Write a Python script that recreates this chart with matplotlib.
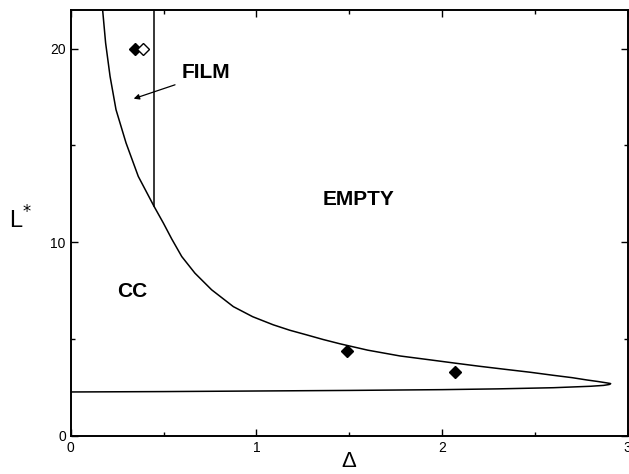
import matplotlib.pyplot as plt
from matplotlib.ticker import MultipleLocator

plt.rcParams["font.family"] = ["Liberation Sans", "DejaVu Sans"]

# phase boundary: upper branch down to the nose,
# then the lower branch back to delta = 0
upper_delta = [0.172, 0.188, 0.212, 0.244, 0.298, 0.364, 0.449, 0.499, 0.544,
               0.598, 0.669, 0.759, 0.876, 0.98, 1.091, 1.18, 1.271, 1.36,
               1.45, 1.60, 1.774, 1.935, 2.07, 2.20, 2.34, 2.474, 2.60, 2.70,
               2.78, 2.84, 2.88, 2.905, 2.908]
upper_L = [22.0, 20.3, 18.57, 16.85, 15.13, 13.4, 11.85, 10.99, 10.17,
           9.26, 8.40, 7.54, 6.67, 6.15, 5.73, 5.45, 5.21, 4.97,
           4.75, 4.42, 4.12, 3.92, 3.75, 3.59, 3.43, 3.28, 3.12, 3.0,
           2.88, 2.80, 2.74, 2.70, 2.69]
lower_delta = [2.908, 2.90, 2.87, 2.80, 2.60, 2.30, 2.0, 1.5, 1.0, 0.5, 0.0]
lower_L = [2.69, 2.645, 2.60, 2.555, 2.48, 2.42, 2.38, 2.34, 2.31, 2.28, 2.26]

# film / empty boundary (vertical line)
film_delta = [0.449, 0.449]
film_L = [11.85, 22.0]

# data points
filled_delta = [0.348, 1.49, 2.07]
filled_L = [20.0, 4.40, 3.31]
open_delta = [0.391]
open_L = [20.0]

fig = plt.figure(figsize=(6.29, 4.74), dpi=100)
ax = fig.add_axes([0.1124, 0.0808, 0.8856, 0.8981])

ax.plot(upper_delta + lower_delta[1:], upper_L + lower_L[1:], color="black", lw=1.1)
ax.plot(film_delta, film_L, color="black", lw=1.1)
ax.plot(filled_delta, filled_L, "D", color="black", markersize=6.5)
ax.plot(open_delta, open_L, "D", markerfacecolor="white",
        markeredgecolor="black", markersize=6.5, markeredgewidth=1)

ax.text(0.598, 18.75, "FILM", fontsize=15, fontweight="bold", va="center", ha="left")
ax.annotate("", xy=(0.325, 17.37), xytext=(0.576, 18.18),
            arrowprops=dict(arrowstyle="-|>", color="black", lw=0.9,
                            mutation_scale=8))
ax.text(1.551, 12.19, "EMPTY", fontsize=15, fontweight="bold", va="center", ha="center")
ax.text(0.329, 7.45, "CC", fontsize=15, fontweight="bold", va="center", ha="center")

ax.set_xlim(0, 3)
ax.set_ylim(0, 22)
ax.xaxis.set_major_locator(MultipleLocator(1))
ax.xaxis.set_minor_locator(MultipleLocator(0.5))
ax.yaxis.set_major_locator(MultipleLocator(10))
ax.yaxis.set_minor_locator(MultipleLocator(5))
ax.tick_params(which="both", direction="in", top=True, right=True, labelsize=10)
ax.tick_params(which="major", length=5, width=1)
ax.tick_params(which="minor", length=3, width=1)
for s in ax.spines.values():
    s.set_linewidth(1.4)

ax.set_xlabel("Δ", fontsize=16)
ax.xaxis.set_label_coords(0.5, -0.036)
ax.set_ylabel("L$^{*}$", fontsize=17, rotation=0)
ax.yaxis.set_label_coords(-0.09, 0.475)

fig.savefig("out.png", dpi=100)
